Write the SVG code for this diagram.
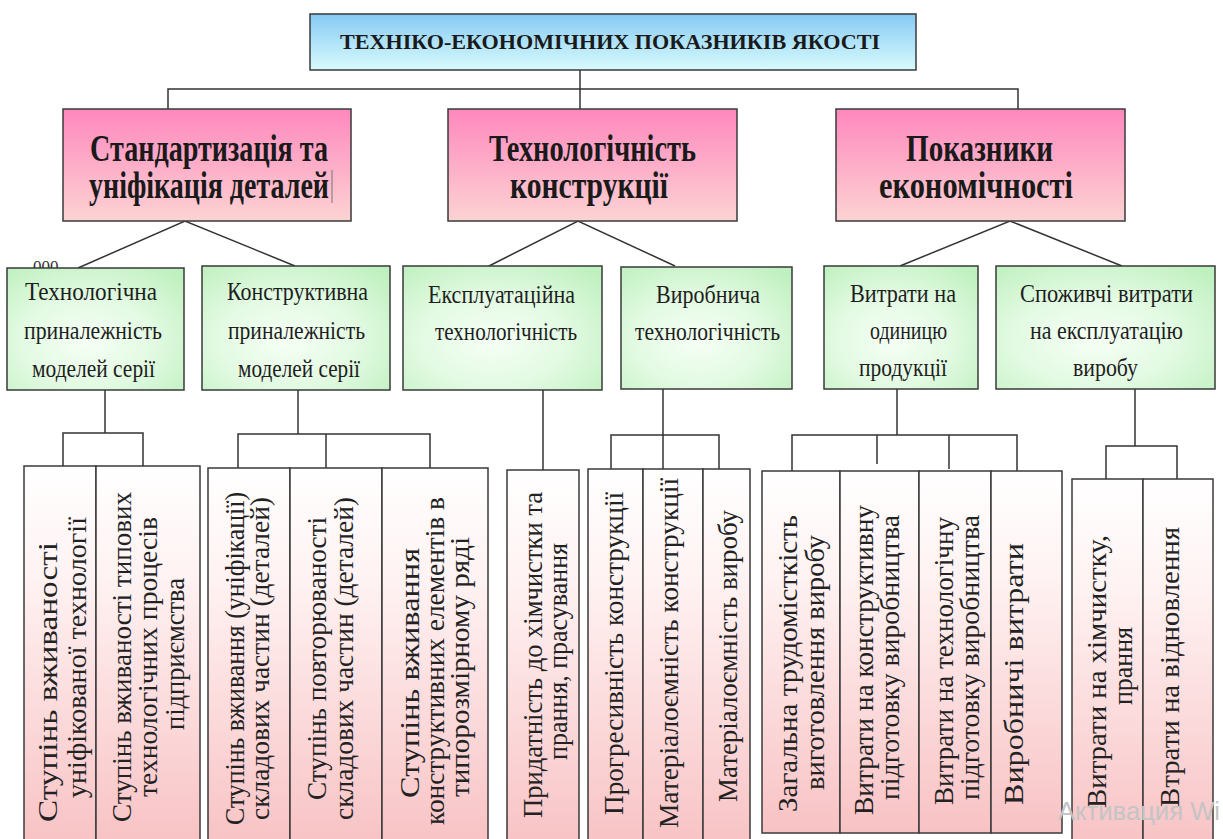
<svg xmlns="http://www.w3.org/2000/svg" width="1223" height="839" viewBox="0 0 1223 839">
<style>
.box{stroke:#3a3a3a;stroke-width:1.5}
.con{stroke:#333;stroke-width:1.5;fill:none}
.t0{font-family:"Liberation Serif",serif;font-weight:bold;font-size:22px;fill:#1a1a1a}
.t1{font-family:"Liberation Serif",serif;font-weight:bold;font-size:37px;fill:#1a1a1a}
.t2{font-family:"Liberation Serif",serif;font-size:26px;fill:#1e1e1e}
.bt{font-family:"Liberation Serif",serif;font-size:28px;fill:#222}
.wm{font-family:"Liberation Sans",Arial,sans-serif;font-size:26px;fill:#c4c4c4}
</style>
<defs>
<linearGradient id="gBlue" x1="0" y1="0" x2="0" y2="1"><stop offset="0" stop-color="#86caf4"/><stop offset="1" stop-color="#d8fbfd"/></linearGradient>
<linearGradient id="gPink" x1="0" y1="0" x2="0" y2="1"><stop offset="0" stop-color="#ff88bd"/><stop offset="1" stop-color="#fcd3d3"/></linearGradient>
<radialGradient id="gGreen" cx="0.45" cy="0.6" r="0.75"><stop offset="0" stop-color="#f6fff6"/><stop offset="0.5" stop-color="#e2fae2"/><stop offset="1" stop-color="#bff0bf"/></radialGradient>
<linearGradient id="gBot" x1="0" y1="0" x2="0" y2="1"><stop offset="0" stop-color="#ffffff"/><stop offset="0.3" stop-color="#fff2f2"/><stop offset="1" stop-color="#f8c2c4"/></linearGradient>
</defs>
<rect width="1223" height="839" fill="#ffffff"/>

<g id="connectors">
<polyline class="con" points="580,70 580,109"/>
<polyline class="con" points="168,109 168,89 1018,89 1018,109"/>
<polyline class="con" points="78,268 185,221 295,266"/>
<polyline class="con" points="487,267 578,221 675,266"/>
<polyline class="con" points="900,266 1010,221 1122,266"/>
<polyline class="con" points="105,390 105,433"/>
<polyline class="con" points="63,466 63,433 143,433 143,466"/>
<polyline class="con" points="298,390 298,434"/>
<polyline class="con" points="238,468 238,434 430,434 430,468"/>
<polyline class="con" points="326,434 326,468"/>
<polyline class="con" points="543,390 543,470"/>
<polyline class="con" points="663,389 663,469"/>
<polyline class="con" points="611,469 611,435 719,435 719,469"/>
<polyline class="con" points="897,389 897,435"/>
<polyline class="con" points="792,471 792,435 1017,435 1017,471"/>
<polyline class="con" points="877,435 877,464"/>
<polyline class="con" points="949,435 949,469"/>
<polyline class="con" points="1135,389 1135,446"/>
<polyline class="con" points="1106,479 1106,446 1177,446 1177,479"/>
</g>

<g id="title">
<rect class="box" x="310" y="14" width="606" height="56" fill="url(#gBlue)"/>
<text class="t0" x="340" y="49" textLength="540" lengthAdjust="spacingAndGlyphs">ТЕХНІКО-ЕКОНОМІЧНИХ ПОКАЗНИКІВ ЯКОСТІ</text>
</g>

<g id="standartization">
<rect class="box" x="63" y="109" width="288" height="112" fill="url(#gPink)"/>
<text class="t1" x="90" y="161" textLength="238" lengthAdjust="spacingAndGlyphs">Стандартизація та</text>
<text class="t1" x="89" y="198" textLength="240" lengthAdjust="spacingAndGlyphs">уніфікація деталей</text>
<line x1="332" y1="170" x2="332" y2="203" stroke="#777" stroke-width="1"/>
</g>

<g id="technologichnist">
<rect class="box" x="448" y="109" width="289" height="112" fill="url(#gPink)"/>
<text class="t1" x="489" y="161" textLength="207" lengthAdjust="spacingAndGlyphs">Технологічність</text>
<text class="t1" x="510" y="198" textLength="158" lengthAdjust="spacingAndGlyphs">конструкції</text>
</g>

<g id="ekonomichnist">
<rect class="box" x="836" y="109" width="289" height="112" fill="url(#gPink)"/>
<text class="t1" x="906" y="161" textLength="147" lengthAdjust="spacingAndGlyphs">Показники</text>
<text class="t1" x="879" y="198" textLength="194" lengthAdjust="spacingAndGlyphs">економічності</text>
</g>

<g id="artifact">
<text x="33" y="272" font-family="Liberation Serif, serif" font-size="17" fill="#333">000</text>
</g>

<g id="tech-prynal">
<rect class="box" x="7" y="268" width="177" height="122" fill="url(#gGreen)"/>
<text class="t2" x="25" y="300" textLength="132" lengthAdjust="spacingAndGlyphs">Технологічна</text>
<text class="t2" x="24" y="339" textLength="138" lengthAdjust="spacingAndGlyphs">приналежність</text>
<text class="t2" x="32" y="377" textLength="123" lengthAdjust="spacingAndGlyphs">моделей серії</text>
</g>

<g id="konstr-prynal">
<rect class="box" x="202" y="266" width="188" height="124" fill="url(#gGreen)"/>
<text class="t2" x="227" y="300" textLength="141" lengthAdjust="spacingAndGlyphs">Конструктивна</text>
<text class="t2" x="228" y="339" textLength="137" lengthAdjust="spacingAndGlyphs">приналежність</text>
<text class="t2" x="238" y="377" textLength="122" lengthAdjust="spacingAndGlyphs">моделей серії</text>
</g>

<g id="ekspl-tech">
<rect class="box" x="403" y="266" width="199" height="124" fill="url(#gGreen)"/>
<text class="t2" x="428" y="303" textLength="147" lengthAdjust="spacingAndGlyphs">Експлуатаційна</text>
<text class="t2" x="435" y="340" textLength="142" lengthAdjust="spacingAndGlyphs">технологічність</text>
</g>

<g id="vyrob-tech">
<rect class="box" x="621" y="267" width="171" height="122" fill="url(#gGreen)"/>
<text class="t2" x="656" y="303" textLength="104" lengthAdjust="spacingAndGlyphs">Виробнича</text>
<text class="t2" x="635" y="340" textLength="145" lengthAdjust="spacingAndGlyphs">технологічність</text>
</g>

<g id="vytraty-odyn">
<rect class="box" x="824" y="266" width="154" height="123" fill="url(#gGreen)"/>
<text class="t2" x="850" y="302" textLength="106" lengthAdjust="spacingAndGlyphs">Витрати на</text>
<text class="t2" x="870" y="339" textLength="77" lengthAdjust="spacingAndGlyphs">одиницю</text>
<text class="t2" x="859" y="376" textLength="88" lengthAdjust="spacingAndGlyphs">продукції</text>
</g>

<g id="spozhyv-vytraty">
<rect class="box" x="996" y="266" width="219" height="123" fill="url(#gGreen)"/>
<text class="t2" x="1020" y="302" textLength="173" lengthAdjust="spacingAndGlyphs">Споживчі витрати</text>
<text class="t2" x="1030" y="339" textLength="153" lengthAdjust="spacingAndGlyphs">на експлуатацію</text>
<text class="t2" x="1073" y="376" textLength="65" lengthAdjust="spacingAndGlyphs">виробу</text>
</g>

<g id="group1">
<rect class="box" x="24" y="466" width="72" height="380" fill="url(#gBot)"/>
<rect class="box" x="96" y="466" width="104" height="380" fill="url(#gBot)"/>
<text class="bt" transform="translate(57,822) rotate(-90)" textLength="280" lengthAdjust="spacingAndGlyphs">Ступінь вживаності</text>
<text class="bt" transform="translate(86,798) rotate(-90)" textLength="281" lengthAdjust="spacingAndGlyphs">уніфікованої технології</text>
<text class="bt" transform="translate(131,822) rotate(-90)" textLength="330" lengthAdjust="spacingAndGlyphs">Ступінь вживаності типових</text>
<text class="bt" transform="translate(157,797) rotate(-90)" textLength="280" lengthAdjust="spacingAndGlyphs">технологічних процесів</text>
<text class="bt" transform="translate(184,730) rotate(-90)" textLength="152" lengthAdjust="spacingAndGlyphs">підприємства</text>
</g>

<g id="group2">
<rect class="box" x="208" y="468" width="82" height="380" fill="url(#gBot)"/>
<rect class="box" x="290" y="468" width="92" height="380" fill="url(#gBot)"/>
<rect class="box" x="382" y="468" width="106" height="380" fill="url(#gBot)"/>
<text class="bt" transform="translate(244,825) rotate(-90)" textLength="333" lengthAdjust="spacingAndGlyphs">Ступінь вживання (уніфікації)</text>
<text class="bt" transform="translate(269,820) rotate(-90)" textLength="323" lengthAdjust="spacingAndGlyphs">складових частин (деталей)</text>
<text class="bt" transform="translate(326,800) rotate(-90)" textLength="283" lengthAdjust="spacingAndGlyphs">Ступінь повторюваності</text>
<text class="bt" transform="translate(353,820) rotate(-90)" textLength="323" lengthAdjust="spacingAndGlyphs">складових частин (деталей)</text>
<text class="bt" transform="translate(419,798) rotate(-90)" textLength="250" lengthAdjust="spacingAndGlyphs">Ступінь вживання</text>
<text class="bt" transform="translate(444,825) rotate(-90)" textLength="328" lengthAdjust="spacingAndGlyphs">конструктивних елементів в</text>
<text class="bt" transform="translate(469,797) rotate(-90)" textLength="260" lengthAdjust="spacingAndGlyphs">типорозмірному ряді</text>
</g>

<g id="group3">
<rect class="box" x="507" y="470" width="72" height="380" fill="url(#gBot)"/>
<text class="bt" transform="translate(542,818) rotate(-90)" textLength="326" lengthAdjust="spacingAndGlyphs">Придатність до хімчистки та</text>
<text class="bt" transform="translate(567,760) rotate(-90)" textLength="217" lengthAdjust="spacingAndGlyphs">прання, прасування</text>
</g>

<g id="group4">
<rect class="box" x="588" y="469" width="55" height="380" fill="url(#gBot)"/>
<rect class="box" x="643" y="469" width="60" height="380" fill="url(#gBot)"/>
<rect class="box" x="703" y="469" width="47" height="380" fill="url(#gBot)"/>
<text class="bt" transform="translate(623,815) rotate(-90)" textLength="323" lengthAdjust="spacingAndGlyphs">Прогресивність конструкції</text>
<text class="bt" transform="translate(678,828) rotate(-90)" textLength="350" lengthAdjust="spacingAndGlyphs">Матеріалоємність конструкції</text>
<text class="bt" transform="translate(737,802) rotate(-90)" textLength="292" lengthAdjust="spacingAndGlyphs">Матеріалоємність виробу</text>
</g>

<g id="group5">
<rect class="box" x="762" y="471" width="78" height="362" fill="url(#gBot)"/>
<rect class="box" x="840" y="471" width="79" height="362" fill="url(#gBot)"/>
<rect class="box" x="919" y="471" width="72" height="362" fill="url(#gBot)"/>
<rect class="box" x="991" y="471" width="71" height="362" fill="url(#gBot)"/>
<text class="bt" transform="translate(797,812) rotate(-90)" textLength="297" lengthAdjust="spacingAndGlyphs">Загальна трудомісткість</text>
<text class="bt" transform="translate(824,790) rotate(-90)" textLength="255" lengthAdjust="spacingAndGlyphs">виготовлення виробу</text>
<text class="bt" transform="translate(873,815) rotate(-90)" textLength="310" lengthAdjust="spacingAndGlyphs">Витрати на конструктивну</text>
<text class="bt" transform="translate(899,800) rotate(-90)" textLength="285" lengthAdjust="spacingAndGlyphs">підготовку виробництва</text>
<text class="bt" transform="translate(953,805) rotate(-90)" textLength="288" lengthAdjust="spacingAndGlyphs">Витрати на технологічну</text>
<text class="bt" transform="translate(979,800) rotate(-90)" textLength="285" lengthAdjust="spacingAndGlyphs">підготовку виробництва</text>
<text class="bt" transform="translate(1023,805) rotate(-90)" textLength="262" lengthAdjust="spacingAndGlyphs">Виробничі витрати</text>
</g>

<g id="group6">
<rect class="box" x="1072" y="479" width="71" height="370" fill="url(#gBot)"/>
<rect class="box" x="1143" y="479" width="70" height="370" fill="url(#gBot)"/>
<text class="bt" transform="translate(1106,808) rotate(-90)" textLength="273" lengthAdjust="spacingAndGlyphs">Витрати на хімчистку,</text>
<text class="bt" transform="translate(1132,705) rotate(-90)" textLength="78" lengthAdjust="spacingAndGlyphs">прання</text>
<text class="bt" transform="translate(1179,807) rotate(-90)" textLength="280" lengthAdjust="spacingAndGlyphs">Втрати на відновлення</text>
</g>

<g id="watermark">
<text class="wm" x="1058" y="820" textLength="162" lengthAdjust="spacingAndGlyphs">Активация Wi</text>
</g>
</svg>
